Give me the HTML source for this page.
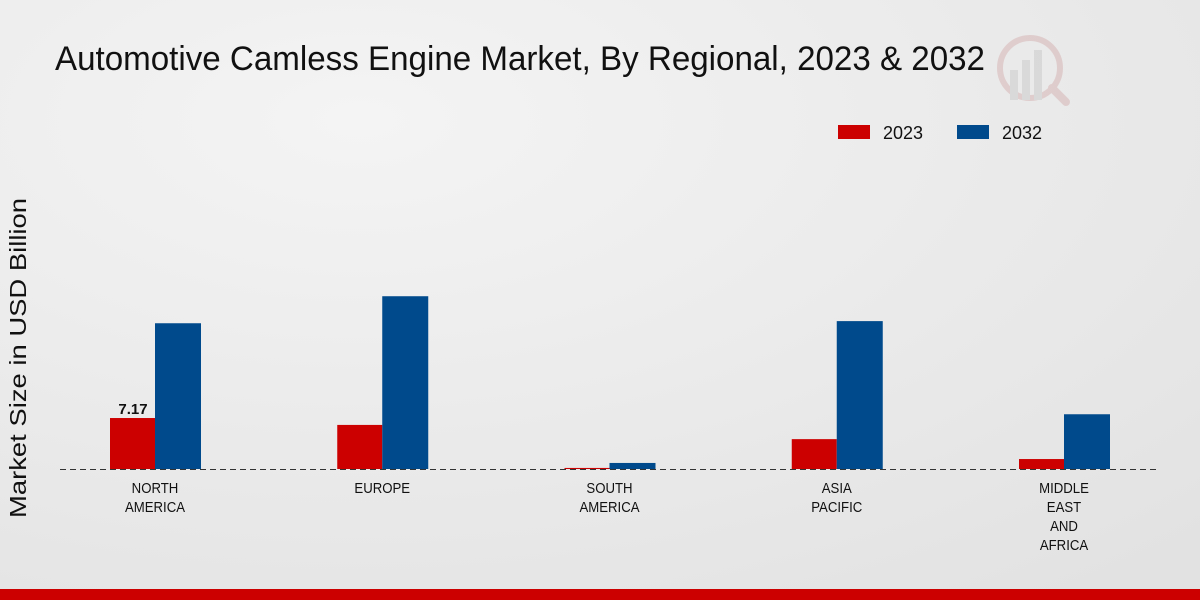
<!DOCTYPE html>
<html><head><meta charset="utf-8"><style>
body{margin:0;width:1200px;height:600px;overflow:hidden;font-family:"Liberation Sans",sans-serif;}
</style></head><body>
<svg width="1200" height="600">
<defs><radialGradient id="bg" cx="0.3" cy="0.2" r="1"><stop offset="0" stop-color="#f4f4f4"/><stop offset="1" stop-color="#e2e2e2"/></radialGradient></defs>
<rect width="1200" height="600" fill="url(#bg)"/>
<text x="55" y="70" font-size="34" fill="#111" textLength="930" lengthAdjust="spacingAndGlyphs">Automotive Camless Engine Market, By Regional, 2023 &amp; 2032</text>
<g opacity="0.35">
<circle cx="1030" cy="68" r="30" fill="none" stroke="#c99" stroke-width="6"/>
<rect x="1010" y="70" width="8" height="30" fill="#bbb"/><rect x="1022" y="60" width="8" height="40" fill="#bbb"/><rect x="1034" y="50" width="8" height="50" fill="#bbb"/>
<line x1="1052" y1="88" x2="1066" y2="102" stroke="#c99" stroke-width="8" stroke-linecap="round"/>
</g>
<g>
<rect x="838" y="125" width="32" height="14" fill="#cc0000"/>
<text x="883" y="139" font-size="18" fill="#111">2023</text>
<rect x="957" y="125" width="32" height="14" fill="#004a8c"/>
<text x="1002" y="139" font-size="18" fill="#111">2032</text>
</g>
<text transform="translate(26,358) rotate(-90)" text-anchor="middle" font-size="23" fill="#111" textLength="320" lengthAdjust="spacingAndGlyphs">Market Size in USD Billion</text>
<g id="plot"></g>
<line x1="60" y1="469.5" x2="1160" y2="469.5" stroke="#333" stroke-dasharray="6,4"/>
<rect x="0" y="589" width="1200" height="11" fill="#cc0000"/>
</svg>
<script>
const categories=[["NORTH","AMERICA"],["EUROPE"],["SOUTH","AMERICA"],["ASIA","PACIFIC"],["MIDDLE","EAST","AND","AFRICA"]];
const values2023=[7.17,6.2,0.15,4.2,1.4];
const values2032=[20.5,24.3,0.85,20.8,7.7];
const labels2023=["7.17","","","",""];
const NS="http://www.w3.org/2000/svg";
const g=document.getElementById("plot");
const y0=469,scale=7.11;
const yPos=v=>y0-v*scale;
const xCenter=i=>155+i*227.25;
function mk(t,a){const e=document.createElementNS(NS,t);for(const k in a)e.setAttribute(k,a[k]);g.appendChild(e);return e;}
categories.forEach((c,i)=>{
 const cx=xCenter(i);
 const r=mk("rect",{x:cx-45,y:yPos(values2023[i]),width:45,height:values2023[i]*scale,fill:"#cc0000"});
 
 
 const b=mk("rect",{x:cx,y:yPos(values2032[i]),width:46,height:values2032[i]*scale,fill:"#004a8c"});
 
 
 if(labels2023[i]){const t=mk("text",{x:cx-22,y:yPos(values2023[i])-4,"text-anchor":"middle","font-size":"15","font-weight":"bold",fill:"#111"});t.textContent=labels2023[i];
 
 }
 c.forEach((ln,j)=>{const t=mk("text",{transform:"translate("+cx+","+(493+j*19)+") scale(0.88,1)","text-anchor":"middle","font-size":"15",fill:"#111"});t.textContent=ln;
 
 });
});
</script>
</body></html>
